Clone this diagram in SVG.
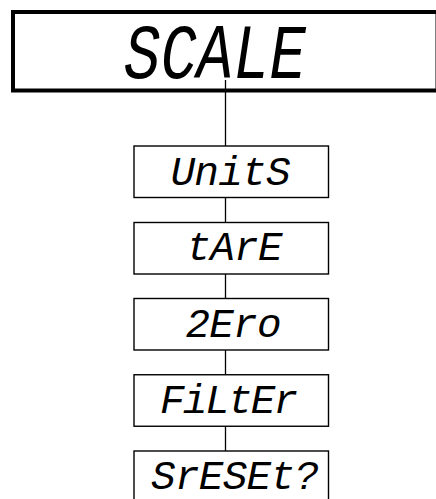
<svg xmlns="http://www.w3.org/2000/svg" width="436" height="499" viewBox="0 0 436 499">
<style>
.box{fill:#fff;stroke:#000;stroke-width:1.4}
.main{fill:#fff;stroke:#000;stroke-width:4}
.lbl{font-family:"Liberation Mono","DejaVu Sans Mono",monospace;font-style:italic;fill:#000;text-anchor:middle}
.big{font-size:77px}
.small{font-size:41px}
.conn{stroke:#000;stroke-width:1.3;fill:none}
</style>
<rect width="436" height="499" fill="#fff"/>
<g id="connectors">
<line class="conn" x1="225.5" y1="78" x2="225.5" y2="451"/>
</g>
<g id="scale">
<rect class="main" x="13" y="12" width="424.5" height="78.5"/>
<text class="lbl big" x="215" y="78" textLength="182" lengthAdjust="spacingAndGlyphs">SCALE</text>
</g>
<line class="conn" x1="225.5" y1="80" x2="225.5" y2="92"/>
<g id="units">
<rect class="box" x="134" y="146" width="194.5" height="51.5"/>
<text class="lbl small" x="230.5" y="185" textLength="120" lengthAdjust="spacing">UnitS</text>
</g>
<g id="tare">
<rect class="box" x="134" y="222.5" width="194.5" height="51.5"/>
<text class="lbl small" x="234.5" y="260" textLength="96" lengthAdjust="spacing">tArE</text>
</g>
<g id="zero">
<rect class="box" x="134" y="298.5" width="194.5" height="51.5"/>
<text class="lbl small" x="233.5" y="337" textLength="96" lengthAdjust="spacing">2Ero</text>
</g>
<g id="filter">
<rect class="box" x="134" y="374.75" width="194.5" height="51.5"/>
<text class="lbl small" x="229" y="412.5" textLength="138" lengthAdjust="spacing">FiLtEr</text>
</g>
<g id="sreset">
<rect class="box" x="134" y="451" width="194.5" height="51.5"/>
<text class="lbl small" x="235" y="488.5" textLength="168" lengthAdjust="spacing">SrESEt?</text>
</g>
</svg>
